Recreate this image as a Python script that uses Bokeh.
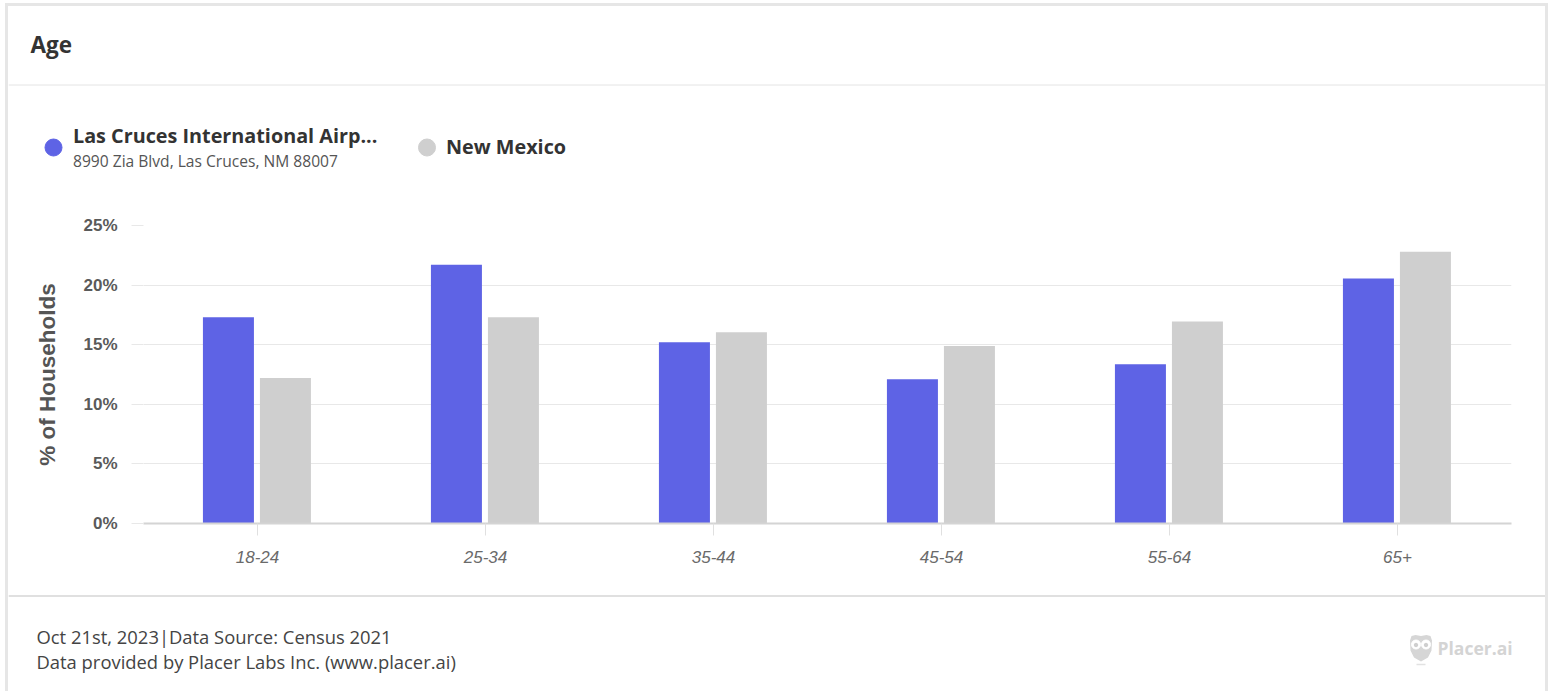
from bokeh.plotting import figure
from bokeh.embed import file_html
from bokeh.resources import INLINE
from bokeh.layouts import column
from bokeh.models import FactorRange, Range1d, PrintfTickFormatter
from bokeh.core.properties import value
from bokeh.transform import dodge

categories = ["18-24", "25-34", "35-44", "45-54", "55-64", "65+"]
las_cruces = [17.3, 21.7, 15.2, 12.1, 13.35, 20.55]
new_mexico = [12.2, 17.3, 16.05, 14.9, 16.95, 22.8]
y_ticks = [0, 5, 10, 15, 20, 25]
BLUE = "#5E63E5"
GRAY = "#CFCFCF"
CL, CR = 8, 1545          # card content, in page pixels
HEAD_B, CHART_B, FOOT_B = 200, 594, 691
CT = 6
FL, FR, FT, FB = 143, 1511, 225, 523


def panel(top, bottom):
    """A plain figure whose data coordinates are page pixels."""
    f = figure(width=CR-CL, height=bottom-top, output_backend="svg", toolbar_location=None,
               x_range=Range1d(CL, CR), y_range=Range1d(bottom, top), min_border=0,
               outline_line_color=None, x_axis_type=None, y_axis_type=None, frame_align=False)
    f.xgrid.visible = False
    f.ygrid.visible = False
    return f


def txt(f, x, y, s, size, color="#333333", style="normal"):
    f.text(x=[x], y=[y], text=[s], text_font=value("Open Sans"), text_font_size=f"{size}px",
           text_font_style=style, text_color=color, text_baseline="alphabetic")


# header
head = panel(CT, HEAD_B)
head.segment(x0=[CL], x1=[CR], y0=[84.5], y1=[84.5], line_color="#E4E4E4", line_width=1)
txt(head, 30, 43.5, "Age", 22.5, "#333333", "bold")
head.scatter(x=[53], y=[147], size=17, color=BLUE)
txt(head, 72.5, 135, "Las Cruces International Airp...", 19.8, "#333333", "bold")
txt(head, 72.5, 160, "8990 Zia Blvd, Las Cruces, NM 88007", 15.6, "#555555")
head.scatter(x=[426.5], y=[147], size=17, color=GRAY)
txt(head, 445.5, 146, "New Mexico", 19.8, "#333333", "bold")

# chart
p = figure(width=CR-CL, height=CHART_B-HEAD_B, output_backend="svg", toolbar_location=None,
           x_range=FactorRange(factors=categories, factor_padding=0, range_padding=0),
           y_range=Range1d(0, 25), min_border_left=FL-CL, min_border_right=CR-FR,
           min_border_top=FT-HEAD_B, min_border_bottom=CHART_B-FB, outline_line_color=None,
           frame_align=False)
p.vbar(x=dodge("x", -0.1275, range=p.x_range), top="y", width=0.2237, fill_color=BLUE, line_color=None,
       source=dict(x=categories, y=las_cruces))
p.vbar(x=dodge("x", 0.1225, range=p.x_range), top="y", width=0.2237, fill_color=GRAY, line_color=None,
       source=dict(x=categories, y=new_mexico))
p.xgrid.visible = False
p.ygrid.grid_line_color = "#E8E8E8"
p.ygrid.ticker = y_ticks
ya = p.yaxis[0]
ya.ticker = y_ticks
ya.formatter = PrintfTickFormatter(format="%d%%")
ya.axis_line_color = None
ya.major_tick_line_color = "#E8E8E8"
ya.major_tick_out = 12
ya.major_tick_in = 0
ya.minor_tick_line_color = None
ya.major_label_text_font = "Liberation Sans"
ya.major_label_text_font_style = "bold"
ya.major_label_text_font_size = "17px"
ya.major_label_text_color = "#5A5A5A"
ya.major_label_standoff = 14
ya.axis_label = "% of Households"
ya.axis_label_text_font = "Liberation Sans"
ya.axis_label_text_font_style = "bold"
ya.axis_label_text_font_size = "22.5px"
ya.axis_label_text_color = "#555555"
ya.axis_label_standoff = 20
xa = p.xaxis[0]
xa.axis_line_color = "#D4D4D4"
xa.axis_line_width = 2
xa.major_tick_line_color = "#E0E0E0"
xa.major_tick_out = 12
xa.major_tick_in = 0
xa.minor_tick_line_color = None
xa.major_label_text_font = "Liberation Sans"
xa.major_label_text_font_style = "italic"
xa.major_label_text_font_size = "17px"
xa.major_label_text_color = "#6A6A6A"
xa.major_label_standoff = 15

# footer
foot = panel(CHART_B, FOOT_B)
foot.segment(x0=[CL], x1=[CR], y0=[595.5], y1=[595.5], line_color="#D6D6D6", line_width=1.5)
txt(foot, 36, 636, "Oct 21st, 2023|Data Source: Census 2021", 18.4, "#444444")
txt(foot, 36, 661, "Data provided by Placer Labs Inc. (www.placer.ai)", 18.4, "#444444")
txt(foot, 1437, 647, "Placer.ai", 17.5, "#D4D4D4", "bold")
# owl logo
foot.patch(x=[1409.5, 1411, 1415, 1420.5, 1426, 1430, 1431.5, 1431, 1427.5, 1420.5, 1413.5, 1410],
           y=[640, 635.5, 634.5, 635.5, 634.5, 635.5, 640, 650, 657, 661, 657, 650],
           color="#D6D6D6", line_width=0)
foot.scatter(x=[1415.5, 1425.5], y=[644, 644], size=9, color="white")
foot.scatter(x=[1415.5, 1425.5], y=[644.5, 644.5], size=3.5, color="#CFCFCF")
foot.segment(x0=[1416], x1=[1425], y0=[664], y1=[664], line_color="#E2E2E2", line_width=1.5)

page = column(head, p, foot, spacing=0)
page.styles = {"position": "fixed", "left": "5px", "top": "3px",
               "border": "3px solid #E6E6E6", "border-bottom": "none", "background": "white"}

open("out.html", "w").write(file_html(page, INLINE))
